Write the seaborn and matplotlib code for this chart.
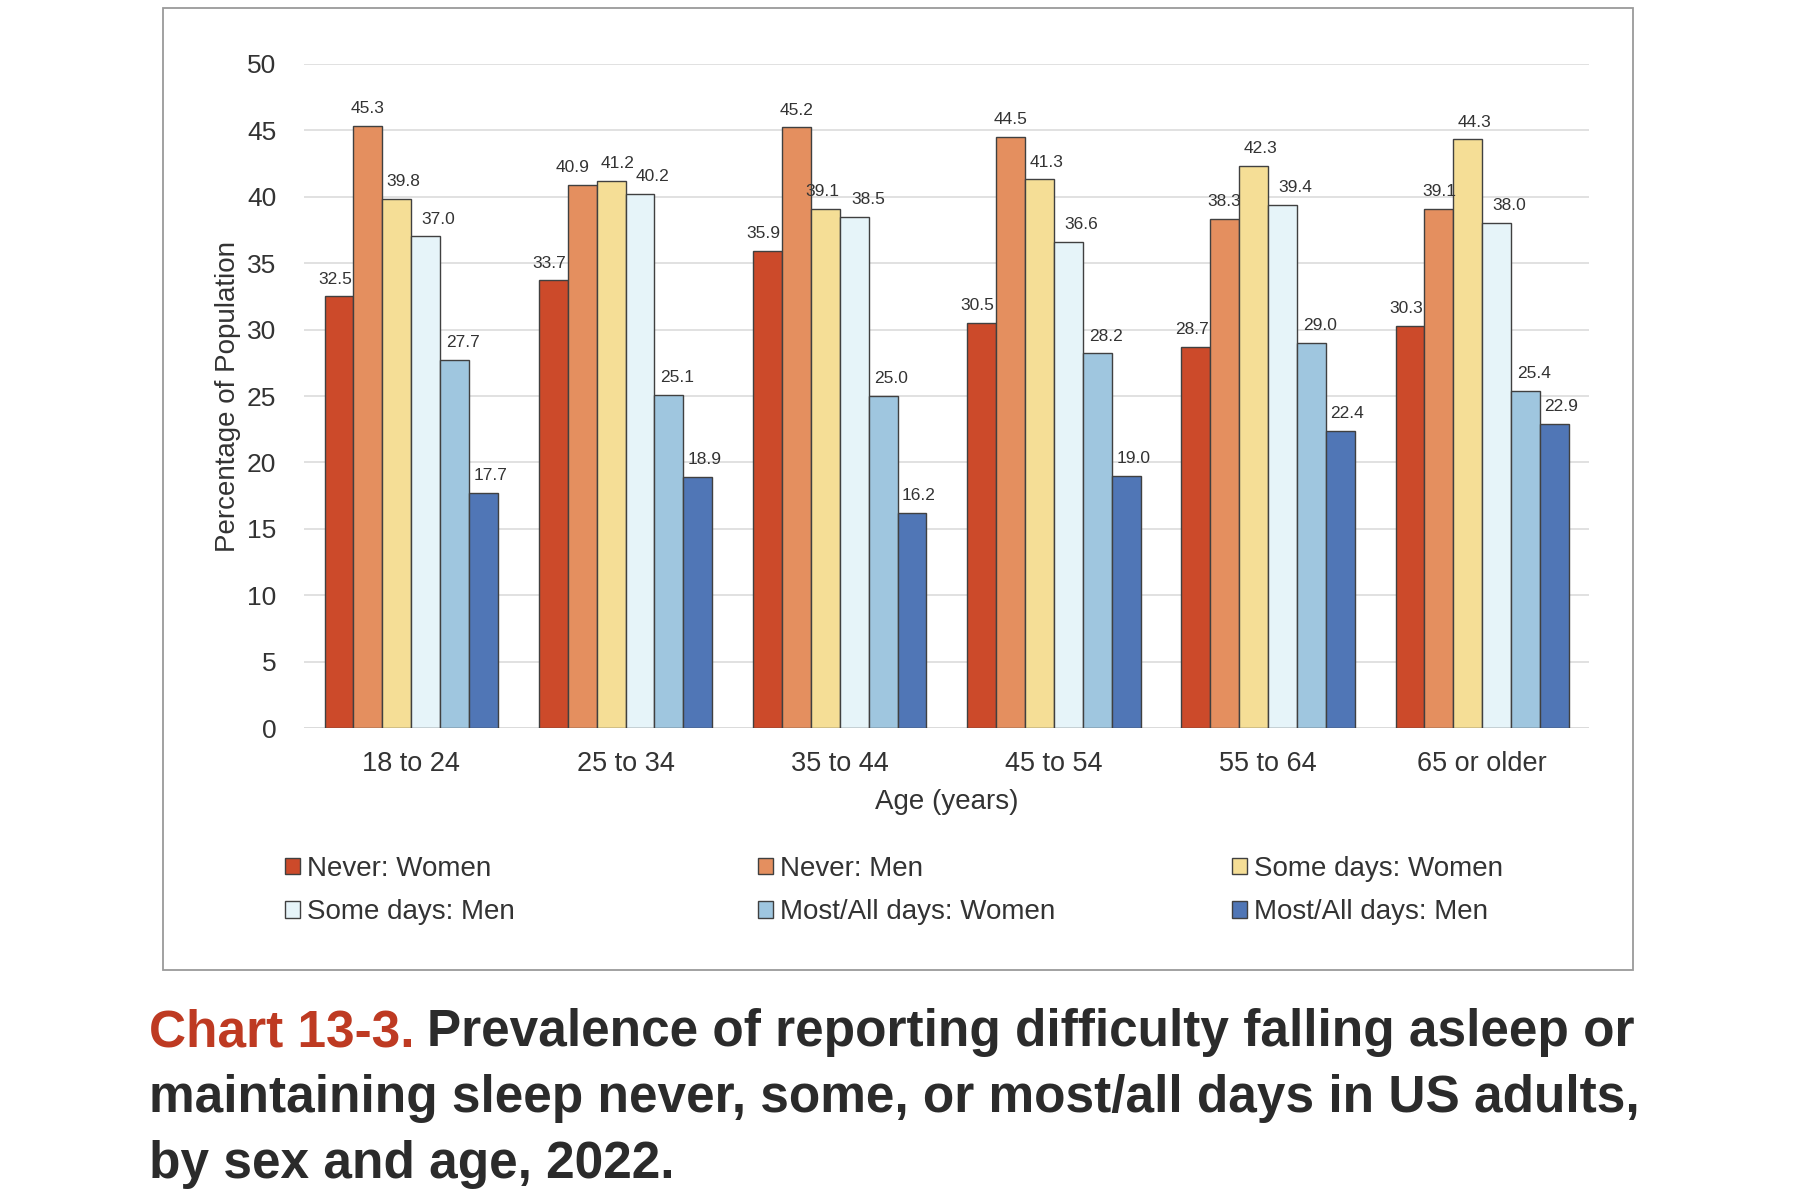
import matplotlib
matplotlib.use('Agg')

import matplotlib.pyplot as plt
import pandas as pd
import numpy as np
import seaborn as sns
from matplotlib.patches import Rectangle

# Age groups and the six sex/frequency series (percent of population)
ages = ['18 to 24', '25 to 34', '35 to 44', '45 to 54', '55 to 64', '65 or older']
series = ['Never: Women', 'Never: Men', 'Some days: Women',
          'Some days: Men', 'Most/All days: Women', 'Most/All days: Men']
never_women = [32.5, 33.7, 35.9, 30.5, 28.7, 30.3]
never_men = [45.3, 40.9, 45.2, 44.5, 38.3, 39.1]
some_women = [39.8, 41.2, 39.1, 41.3, 42.3, 44.3]
some_men = [37.0, 40.2, 38.5, 36.6, 39.4, 38.0]
most_women = [27.7, 25.1, 25.0, 28.2, 29.0, 25.4]
most_men = [17.7, 18.9, 16.2, 19.0, 22.4, 22.9]
colors = ['#CC4A2A', '#E48F5F', '#F5DE96', '#E6F4F9', '#9FC6DF', '#5076B6']

values = [never_women, never_men, some_women, some_men, most_women, most_men]
df = pd.DataFrame({
    'age': np.tile(ages, len(series)),
    'group': np.repeat(series, len(ages)),
    'pct': np.concatenate(values),
})

sns.set_style('white')
plt.rcParams['font.family'] = ['Liberation Sans', 'DejaVu Sans']

fig = plt.figure(figsize=(18, 12), dpi=100)
ax = fig.add_axes([0.169, 0.393, 0.714, 0.554])

sns.barplot(data=df, x='age', y='pct', hue='group', order=ages, hue_order=series,
            palette=colors, edgecolor='#404040', linewidth=1.0, width=0.81,
            saturation=1, ax=ax, legend=True)

# labels sit a little to the right for the lighter series, as in the source chart;
# a few more get nudged where neighbours would collide
series_shift = [-3, 0, 5, 9, 6, 5]
nudge = {(1, 1): -7, (2, 2): -2, (3, 2): 10}
for si, cont in enumerate(ax.containers):
    anns = ax.bar_label(cont, fmt='%.1f', padding=7, fontsize=12.5, color='#333333')
    for gi, a in enumerate(anns):
        a.xyann = (nudge.get((si, gi), series_shift[si]), 7)

ax.set_ylim(0, 50)
ax.set_xlim(-0.5, 5.5)
ax.set_yticks(range(0, 51, 5))
ax.yaxis.grid(True, color='#DCDCDC', linewidth=1.2)
ax.set_axisbelow(True)
for s in ['top', 'right', 'left', 'bottom']:
    ax.spines[s].set_visible(False)
ax.axhline(0, color='#D0D0D0', linewidth=1.2, zorder=0)
ax.tick_params(axis='y', length=0, pad=20, labelsize=19, labelcolor='#333333')
ax.tick_params(axis='x', length=0, pad=16, labelsize=19.5, labelcolor='#333333')
ax.set_xlabel('Age (years)', fontsize=20, color='#333333', labelpad=9)
ax.set_ylabel('Percentage of Population', fontsize=20, color='#333333', labelpad=4)

# legend: three columns placed separately, filled row-wise
handles, labels = ax.get_legend_handles_labels()
ax.get_legend().remove()
col_x = [0.152, 0.415, 0.678]
for i, x in enumerate(col_x):
    hs = [handles[i], handles[i + 3]]
    ls = [labels[i], labels[i + 3]]
    leg = fig.legend(hs, ls, loc='upper left', bbox_to_anchor=(x, 0.296),
                     frameon=False, fontsize=20, handlelength=0.55, handleheight=0.55,
                     handletextpad=0.25, labelspacing=0.62, borderaxespad=0)
    for t in leg.get_texts():
        t.set_color('#333333')

# gray frame around the chart area
fig.add_artist(Rectangle((0.0906, 0.192), 0.8166, 0.801, transform=fig.transFigure,
                         fill=False, edgecolor='#9A9A9A', linewidth=1.3))

# caption, first word in red
cap_kw = dict(fontsize=37, fontweight='bold', va='baseline', ha='left')
fig.canvas.draw()
r = fig.canvas.get_renderer()
t1 = fig.text(0.083, 0.128, 'Chart 13-3.', color='#BE3A22', **cap_kw)
bb = t1.get_window_extent(renderer=r)
x2 = (bb.x1 + 12) / fig.bbox.width
fig.text(x2, 0.128, 'Prevalence of reporting difficulty falling asleep or',
         color='#2B2B2B', **cap_kw)
fig.text(0.083, 0.073, 'maintaining sleep never, some, or most/all days in US adults,',
         color='#2B2B2B', **cap_kw)
fig.text(0.083, 0.018, 'by sex and age, 2022.', color='#2B2B2B', **cap_kw)

fig.savefig('out.png', dpi=100, facecolor='white')
